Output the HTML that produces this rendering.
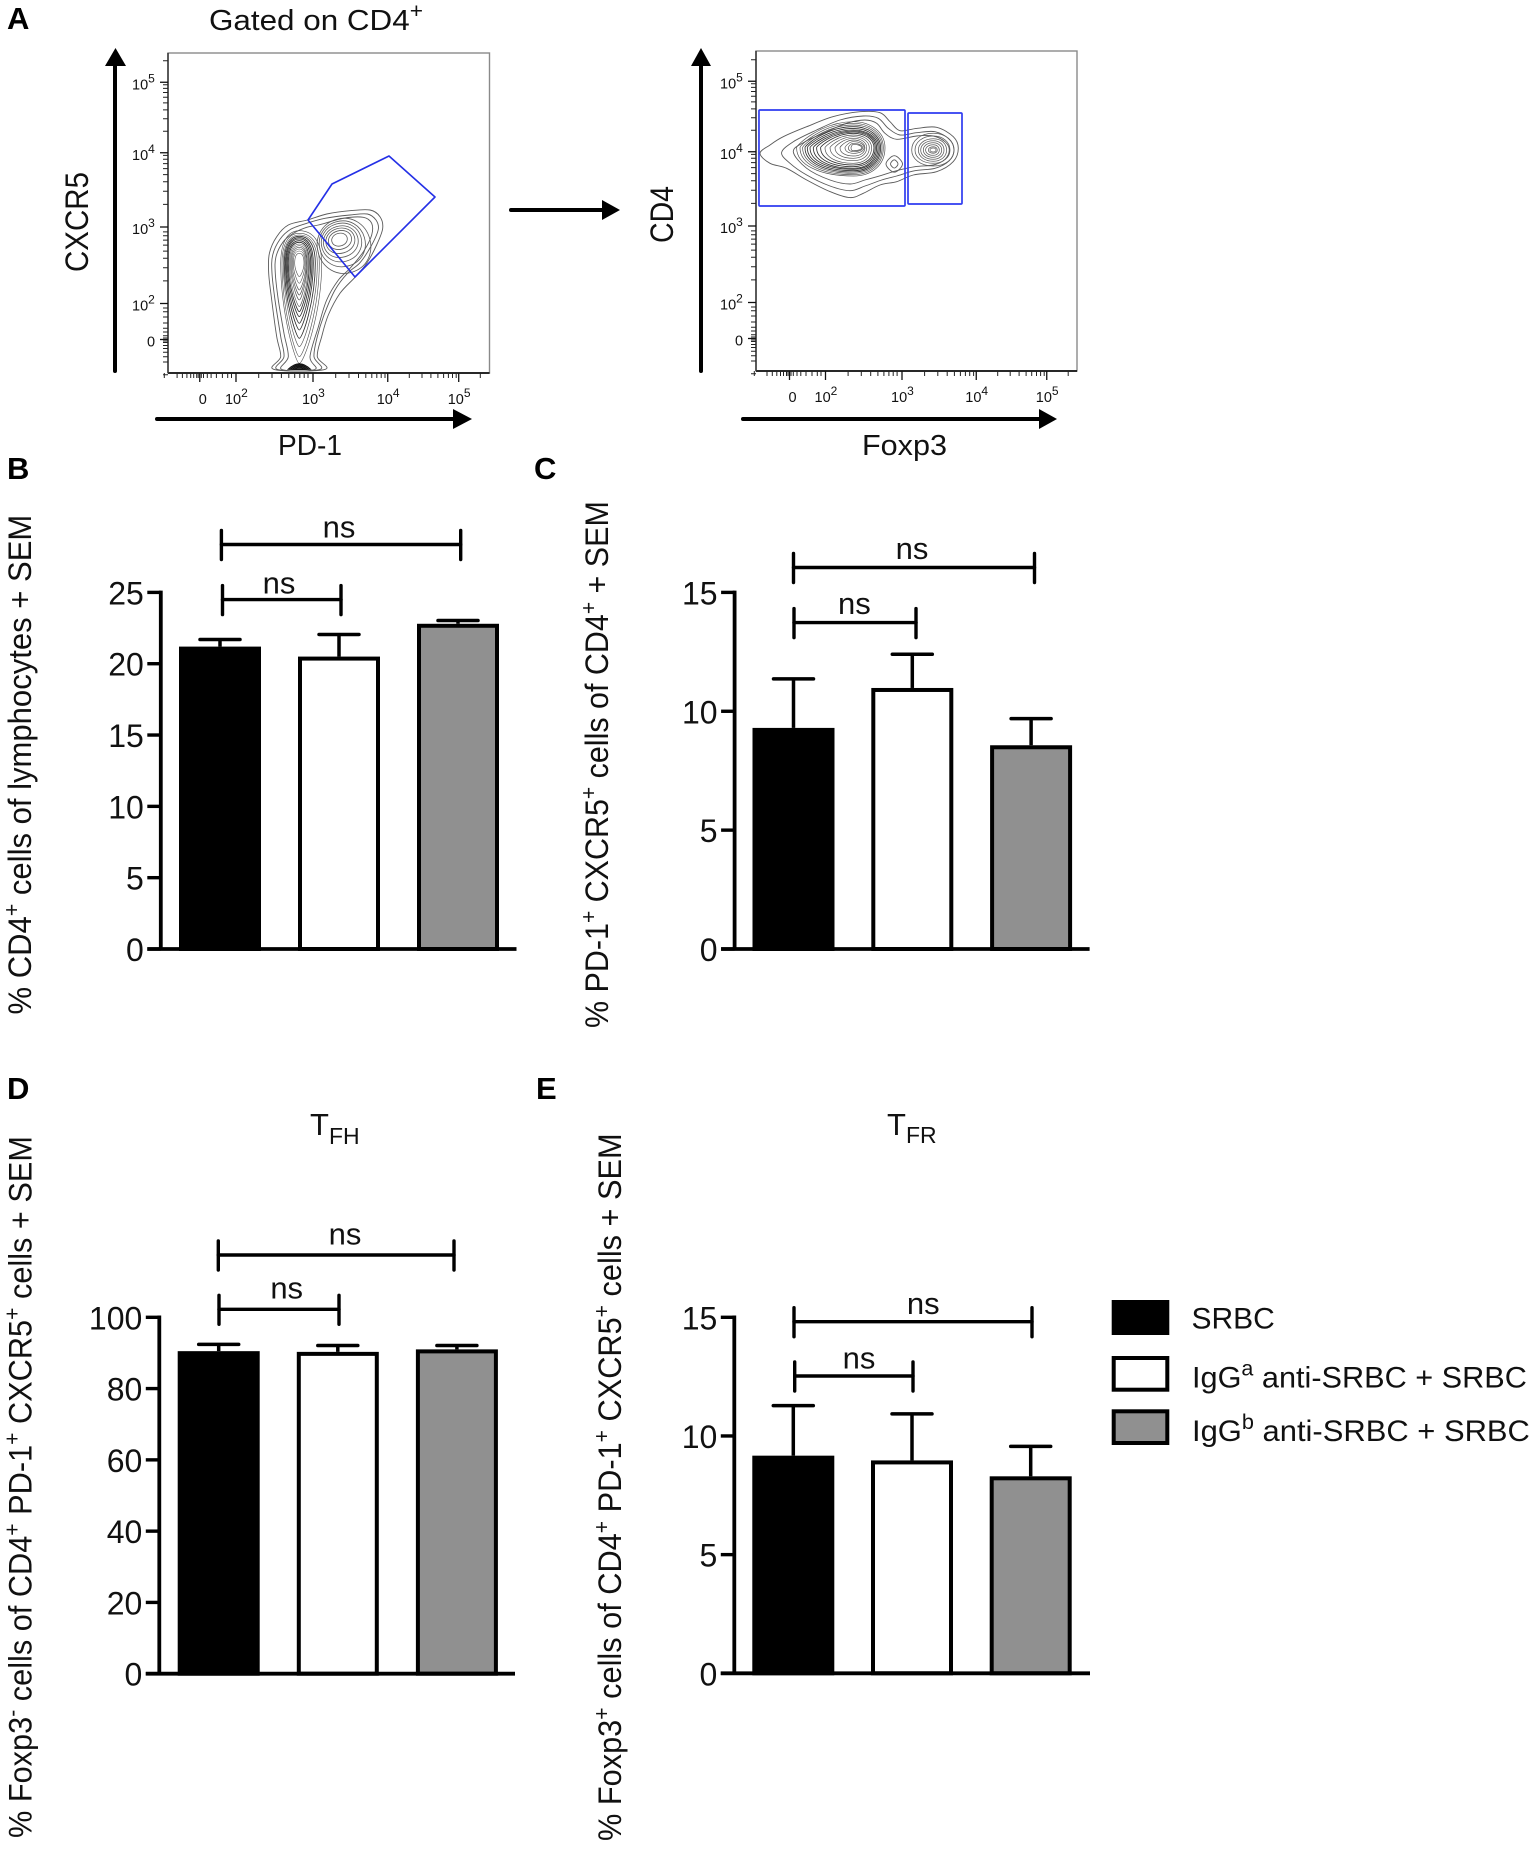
<!DOCTYPE html>
<html lang="en">
<head>
<meta charset="utf-8">
<title>Flow cytometry gating and T follicular cell frequencies</title>
<style>
html,body{margin:0;padding:0;background:#fff;}
svg{display:block;position:absolute;left:0;top:0;}
text{font-family:"Liberation Sans",sans-serif;fill:#111;}
.letter{font-size:31px;font-weight:bold;fill:#000;}
.ylab{font-size:32px;}
.flowlab{font-size:32px;}
.flowlab-h{font-size:29px;}
.leg{font-size:30px;}
</style>
</head>
<body>
<svg id="fig" xmlns="http://www.w3.org/2000/svg" width="1535" height="1849" viewBox="0 0 1535 1849">
<defs>
<filter id="soft" x="-5%" y="-5%" width="110%" height="110%"><feGaussianBlur stdDeviation="0.3"/></filter>
<clipPath id="clip-left"><rect x="168" y="53" width="322" height="320"/></clipPath>
<clipPath id="clip-right"><rect x="756" y="51" width="321" height="320"/></clipPath>
</defs>
<rect width="1535" height="1849" fill="#fff"/>

<text class="letter" x="7" y="29">A</text>
<text class="letter" x="7" y="479">B</text>
<text class="letter" x="534" y="479">C</text>
<text class="letter" x="7" y="1099">D</text>
<text class="letter" x="536" y="1099">E</text>

<text data-len="214" transform="translate(209,30) scale(1,1)" font-size="29">Gated on CD4<tspan font-size="21" dy="-12">+</tspan></text>

<text class="flowlab" data-len="100" transform="translate(88,272) rotate(-90) scale(1,1)">CXCR5</text>
<text class="flowlab-h" data-len="64" transform="translate(278,455) scale(1,1)">PD-1</text>
<text class="flowlab" data-len="57" transform="translate(673,243) rotate(-90) scale(1,1)">CD4</text>
<text class="flowlab-h" data-len="85" transform="translate(862,455) scale(1,1)">Foxp3</text>

<g><line x1="115" y1="371" x2="115" y2="64" stroke="#000" stroke-width="4" stroke-linecap="round"/><polygon points="105,66 126,66 115.5,48" fill="#000"/></g>
<g><line x1="157" y1="419" x2="455" y2="419" stroke="#000" stroke-width="4" stroke-linecap="round"/><polygon points="453,409 453,429 472,419" fill="#000"/></g>
<g><line x1="701" y1="371" x2="701" y2="64" stroke="#000" stroke-width="4" stroke-linecap="round"/><polygon points="691,66 711,66 701,48" fill="#000"/></g>
<g><line x1="743" y1="419" x2="1041" y2="419" stroke="#000" stroke-width="4" stroke-linecap="round"/><polygon points="1039,409 1039,429 1057,419" fill="#000"/></g>
<g><line x1="511" y1="210" x2="604" y2="210" stroke="#000" stroke-width="4" stroke-linecap="round"/><polygon points="602,200 602,220 620,210" fill="#000"/></g>

<text class="ylab" data-len="500" transform="translate(31,1014.5) rotate(-90) scale(1,1)">% CD4<tspan font-size="22" dy="-12">+</tspan><tspan dy="12"> cells of lymphocytes + SEM</tspan></text>
<text class="ylab" data-len="527" transform="translate(608,1028) rotate(-90) scale(1,1)">% PD-1<tspan font-size="22" dy="-12">+</tspan><tspan dy="12"> CXCR5</tspan><tspan font-size="22" dy="-12">+</tspan><tspan dy="12"> cells of CD4</tspan><tspan font-size="22" dy="-12">+</tspan><tspan dy="12"> + SEM</tspan></text>
<text class="ylab" data-len="702" transform="translate(31.7,1838) rotate(-90) scale(1,1)">% Foxp3<tspan font-size="22" dy="-12">-</tspan><tspan dy="12"> cells of CD4</tspan><tspan font-size="22" dy="-12">+</tspan><tspan dy="12"> PD-1</tspan><tspan font-size="22" dy="-12">+</tspan><tspan dy="12"> CXCR5</tspan><tspan font-size="22" dy="-12">+</tspan><tspan dy="12"> cells + SEM</tspan></text>
<text class="ylab" data-len="708" transform="translate(621,1841) rotate(-90) scale(1,1)">% Foxp3<tspan font-size="22" dy="-12">+</tspan><tspan dy="12"> cells of CD4</tspan><tspan font-size="22" dy="-12">+</tspan><tspan dy="12"> PD-1</tspan><tspan font-size="22" dy="-12">+</tspan><tspan dy="12"> CXCR5</tspan><tspan font-size="22" dy="-12">+</tspan><tspan dy="12"> cells + SEM</tspan></text>

<text x="310" y="1135" font-size="31">T<tspan font-size="23" dy="9">FH</tspan></text>
<text x="887" y="1135" font-size="31">T<tspan font-size="23" dy="8">FR</tspan></text>

<g>
<g>
<rect x="1111.7" y="1300" width="57.6" height="35" fill="#000"/>
<text class="leg" x="1191.5" y="1328.3">SRBC</text>
</g>
<g>
<rect x="1113.7" y="1358" width="53.6" height="31.7" fill="#fff" stroke="#000" stroke-width="4"/>
<text class="leg" data-len="335" transform="translate(1192,1387.3) scale(1,1)">IgG<tspan font-size="21" dy="-12">a</tspan><tspan dy="12"> anti-SRBC + SRBC</tspan></text>
</g>
<g>
<rect x="1113.7" y="1411.3" width="53.6" height="31.7" fill="#909090" stroke="#000" stroke-width="4"/>
<text class="leg" data-len="338" transform="translate(1192,1441) scale(1,1)">IgG<tspan font-size="21" dy="-12">b</tspan><tspan dy="12"> anti-SRBC + SRBC</tspan></text>
</g>
</g>

<g id="layer-flow-left"></g>
<g id="layer-flow-right"></g>
<g id="layer-b"></g>
<g id="layer-c"></g>
<g id="layer-d"></g>
<g id="layer-e"></g>
</svg>

<script>
/* ---------- bar chart data ---------- */
const categories = ['SRBC', 'IgGa anti-SRBC + SRBC', 'IgGb anti-SRBC + SRBC'];
const barFills = ['#000000', '#ffffff', '#909090'];

const panelBValues = [21.2, 20.5, 22.8];
const panelBSem = [0.5, 1.55, 0.23];
const panelBTicks = [0, 5, 10, 15, 20, 25];

const panelCValues = [9.3, 10.98, 8.57];
const panelCSem = [2.06, 1.42, 1.12];
const panelCTicks = [0, 5, 10, 15];

const panelDValues = [90.5, 90.3, 91.0];
const panelDSem = [1.9, 1.8, 1.1];
const panelDTicks = [0, 20, 40, 60, 80, 100];

const panelEValues = [9.17, 8.97, 8.3];
const panelESem = [2.11, 1.96, 1.26];
const panelETicks = [0, 5, 10, 15];

/* ---------- flow axis data (display units, 3 = 10^3) ---------- */
const flowTickUnits = [1.5, 1.98, 3, 3.99, 4.93];
const flowTickExponents = ['', '2', '3', '4', '5'];
const flowMinorFactors = [2, 3, 4, 5, 6, 7, 8, 9];
const flowLowTicks = [1.03, 1.2, 1.27, 1.33, 1.38, 1.42, 1.46, 1.48, 1.52, 1.55, 1.6, 1.65, 1.72, 1.8, 1.87, 1.92];

/* ---------- gates (display units) ---------- */
const tfhGateX = [2.934, 3.252, 4.007, 4.616, 3.556];
const tfhGateY = [3.093, 3.573, 3.947, 3.4, 2.333];
const foxp3NegGate = [1.093, 3.04, 3.267, 4.547];
const foxp3PosGate = [3.08, 3.8, 3.293, 4.507];

/* ---------- left contour plot outlines (display units) ---------- */
const leftOutline1X = [2.483,2.572,2.519,2.453,2.413,2.422,2.519,2.673,2.925,3.181,3.49,3.755,3.887,3.923,3.843,3.711,3.556,3.358,3.203,3.115,3.057,3.159];
const leftOutline1Y = [1.102,1.271,1.538,2.027,2.382,2.649,2.871,3.027,3.093,3.173,3.218,3.227,3.138,2.982,2.76,2.516,2.329,2.116,1.827,1.538,1.271,1.102];
const leftOutline2X = [2.528,2.616,2.572,2.497,2.457,2.466,2.563,2.704,2.916,3.159,3.49,3.72,3.834,3.865,3.777,3.622,3.455,3.291,3.146,3.057,3.013,3.093];
const leftOutline2Y = [1.102,1.271,1.538,2.027,2.382,2.627,2.836,2.969,3.049,3.116,3.16,3.173,3.093,2.969,2.76,2.524,2.382,2.16,1.827,1.538,1.271,1.102];
const leftOutline3X = [2.585,2.673,2.616,2.541,2.501,2.51,2.607,2.74,2.916,3.071,3.402,3.667,3.777,3.777,3.667,3.49,3.336,3.181,3.071,2.96,3.026];
const leftOutline3Y = [1.102,1.271,1.582,2.027,2.382,2.604,2.804,2.916,2.996,3.027,3.116,3.129,3.049,2.893,2.671,2.449,2.293,2.027,1.671,1.271,1.102];

/* nested teardrop contours of the PD-1 low population */
const dropLeft = [2.572,2.589,2.607,2.62,2.634,2.647,2.66,2.673,2.687,2.7,2.713,2.726,2.739,2.757];
const dropRight = [3.115,3.084,3.057,3.031,3.004,2.987,2.969,2.951,2.938,2.925,2.916,2.907,2.894,2.881];
const dropTop = [2.951,2.916,2.893,2.876,2.858,2.84,2.818,2.796,2.773,2.751,2.729,2.707,2.68,2.649];
const dropBottom = [1.182,1.271,1.404,1.516,1.627,1.716,1.804,1.871,1.938,2.027,2.093,2.16,2.249,2.338];

/* nested contours of the PD-1 high population */
const lobeLeft = [3.247,3.203,3.168,3.137,3.11,3.084,3.057];
const lobeRight = [3.455,3.512,3.556,3.6,3.645,3.693,3.764];
const lobeTop = [2.916,2.951,2.982,3.013,3.049,3.08,3.116];
const lobeBottom = [2.747,2.702,2.649,2.596,2.538,2.471,2.382];

/* dark mound on the lower axis */
const moundHalfWidth = [0.15, 0.12, 0.09, 0.06];
const moundHeight = [0.075, 0.06, 0.045, 0.03];

/* ---------- right contour plot outlines (display units) ---------- */
const rightOutline1X = [1.106,1.24,1.417,1.729,2.084,2.44,2.706,2.84,2.973,3.195,3.462,3.684,3.751,3.684,3.462,3.151,2.929,2.706,2.484,2.306,2.04,1.729,1.462,1.24];
const rightOutline1Y = [3.969,4.08,4.191,4.324,4.458,4.524,4.511,4.391,4.271,4.302,4.316,4.191,4.036,3.858,3.724,3.68,3.591,3.547,3.436,3.378,3.458,3.613,3.769,3.836];
const rightOutline2X = [1.395,1.551,1.862,2.173,2.484,2.684,2.817,2.973,3.195,3.44,3.631,3.693,3.631,3.44,3.173,2.929,2.729,2.507,2.306,2.04,1.729,1.506];
const rightOutline2Y = [3.978,4.124,4.28,4.413,4.467,4.436,4.302,4.213,4.244,4.258,4.156,4.013,3.871,3.769,3.738,3.667,3.613,3.533,3.471,3.533,3.68,3.836];
const rightOutline3X = [1.551,1.706,1.951,2.262,2.506,2.662,2.773,2.929,3.195,3.417,3.573,3.631,3.573,3.417,3.173,2.929,2.729,2.506,2.306,2.04,1.729];
const rightOutline3Y = [3.991,4.124,4.236,4.369,4.413,4.369,4.236,4.156,4.2,4.2,4.124,4.013,3.889,3.813,3.791,3.738,3.676,3.613,3.56,3.613,3.769];

/* nested contours of the Foxp3 negative population */
const mainLeft = [1.595,1.64,1.675,1.706,1.737,1.773,1.817,1.862,1.915,1.973,2.04,2.107,2.173,2.24,2.284,2.32];
const mainRight = [2.773,2.751,2.733,2.715,2.697,2.68,2.662,2.644,2.626,2.595,2.564,2.529,2.506,2.493,2.475,2.462];
const mainTop = [4.391,4.369,4.347,4.324,4.302,4.28,4.267,4.253,4.236,4.213,4.191,4.169,4.147,4.124,4.102,4.089];
const mainBottom = [3.667,3.684,3.702,3.72,3.738,3.756,3.769,3.791,3.813,3.836,3.871,3.902,3.933,3.969,3.991,4.004];

/* nested contours of the Foxp3 positive population */
const posLeft = [3.129,3.173,3.218,3.249,3.284,3.315,3.351,3.373];
const posRight = [3.693,3.64,3.595,3.56,3.529,3.497,3.471,3.453];
const posTop = [4.236,4.2,4.164,4.138,4.111,4.084,4.058,4.04];
const posBottom = [3.8,3.836,3.862,3.889,3.916,3.942,3.969,3.987];

/* small intermediate peak */
const peakHalfWidth = [0.11, 0.05];
const peakHalfHeight = [0.11, 0.055];

const NS = 'http://www.w3.org/2000/svg';
function mk(tag, attrs, parent) {
  const el = document.createElementNS(NS, tag);
  for (const k in attrs) el.setAttribute(k, attrs[k]);
  parent.appendChild(el);
  return el;
}

/* ---------- bar charts ---------- */
function drawBars(layer, prefix, cfg, values, sems, ticks) {
  const maxTick = ticks[ticks.length - 1];
  const y = v => cfg.y0 - (v / maxTick) * (cfg.y0 - cfg.yTop);
  const x = i => cfg.x0 + i * cfg.step;
  const bw = 82, sw = 4;

  categories.forEach((cat, i) => {
    const stem = mk('line', {x1: x(i), x2: x(i), y1: y(values[i]), y2: y(values[i] + sems[i]), stroke: '#000', 'stroke-width': 3.5}, layer);
    
    
    const cap = mk('line', {x1: x(i) - 20, x2: x(i) + 20, y1: y(values[i] + sems[i]), y2: y(values[i] + sems[i]), stroke: '#000', 'stroke-width': 3.5, 'stroke-linecap': 'round'}, layer);
    
    
    const bar = mk('rect', {x: x(i) - bw / 2 + sw / 2, y: y(values[i]) + sw / 2, width: bw - sw, height: cfg.y0 - y(values[i]) - sw / 2, fill: barFills[i], stroke: '#000', 'stroke-width': sw}, layer);
    
    
  });

  const yAxis = mk('line', {x1: cfg.axisX, x2: cfg.axisX, y1: cfg.yTop - 1.8, y2: cfg.y0, stroke: '#000', 'stroke-width': 3.8}, layer);
  
  
  const xAxis = mk('line', {x1: cfg.axisX - 13.5, x2: cfg.xEnd, y1: cfg.y0, y2: cfg.y0, stroke: '#000', 'stroke-width': 3.8}, layer);
  
  

  ticks.forEach(t => {
    const tick = mk('line', {x1: cfg.axisX - 13.5, x2: cfg.axisX, y1: y(t), y2: y(t), stroke: '#000', 'stroke-width': 3.4}, layer);
    
    
    const label = mk('text', {x: cfg.axisX - 17, y: y(t) + 12, 'text-anchor': 'end', 'font-size': 32}, layer);
    label.textContent = t;
    
    
  });

  cfg.brackets.forEach((b, i) => {
    const g = mk('g', {stroke: '#000', 'stroke-width': 3.4, 'stroke-linecap': 'round'}, layer);
    
    
    mk('line', {x1: b.x1, x2: b.x2, y1: b.y, y2: b.y}, g);
    mk('line', {x1: b.x1, x2: b.x1, y1: b.y - 14, y2: b.y + 15}, g);
    mk('line', {x1: b.x2, x2: b.x2, y1: b.y - 14, y2: b.y + 15}, g);
    const ns = mk('text', {x: b.lx, y: b.ly, 'text-anchor': 'middle', 'font-size': 31}, layer);
    ns.textContent = 'ns';
    
    
  });
}

drawBars(document.getElementById('layer-b'), 'panel-b', {x0: 220, step: 119, y0: 949, yTop: 592.4, axisX: 160.8, xEnd: 516.5,
  brackets: [{x1: 221.4, x2: 460.7, y: 544.5, lx: 339, ly: 537.3}, {x1: 222.5, x2: 341, y: 599.6, lx: 279, ly: 593.5}]},
  panelBValues, panelBSem, panelBTicks);
drawBars(document.getElementById('layer-c'), 'panel-c', {x0: 793.5, step: 118.8, y0: 949, yTop: 592.4, axisX: 734.6, xEnd: 1089.6,
  brackets: [{x1: 793.5, x2: 1034.5, y: 567.5, lx: 912, ly: 559}, {x1: 794, x2: 916, y: 622.6, lx: 854.4, ly: 613.8}]},
  panelCValues, panelCSem, panelCTicks);
drawBars(document.getElementById('layer-d'), 'panel-d', {x0: 218.7, step: 119.1, y0: 1673.7, yTop: 1317.3, axisX: 159.3, xEnd: 515,
  brackets: [{x1: 218.3, x2: 454, y: 1255, lx: 345, ly: 1244.3}, {x1: 219, x2: 339, y: 1309.3, lx: 286.7, ly: 1298.7}]},
  panelDValues, panelDSem, panelDTicks);
drawBars(document.getElementById('layer-e'), 'panel-e', {x0: 793.3, step: 118.7, y0: 1673.3, yTop: 1317.3, axisX: 734.3, xEnd: 1090,
  brackets: [{x1: 794, x2: 1032, y: 1321.7, lx: 923.3, ly: 1314}, {x1: 794.7, x2: 913, y: 1376, lx: 859, ly: 1368.3}]},
  panelEValues, panelESem, panelETicks);

/* ---------- contour helpers ---------- */
function closedSpline(xs, ys, sx, sy) {
  const n = xs.length;
  const P = i => [sx(xs[(i + n) % n]), sy(ys[(i + n) % n])];
  let d = 'M' + P(0)[0].toFixed(1) + ',' + P(0)[1].toFixed(1);
  for (let i = 0; i < n; i++) {
    const p0 = P(i - 1), p1 = P(i), p2 = P(i + 1), p3 = P(i + 2);
    const c1 = [p1[0] + (p2[0] - p0[0]) / 6, p1[1] + (p2[1] - p0[1]) / 6];
    const c2 = [p2[0] - (p3[0] - p1[0]) / 6, p2[1] - (p3[1] - p1[1]) / 6];
    d += 'C' + c1[0].toFixed(1) + ',' + c1[1].toFixed(1) + ' ' + c2[0].toFixed(1) + ',' + c2[1].toFixed(1) + ' ' + p2[0].toFixed(1) + ',' + p2[1].toFixed(1);
  }
  return d + 'Z';
}
function blobPath(sx, sy, c, w, l, r, t, b, o) {
  const C = sx(c), W = sy(w), L = sx(l), R = sx(r), T = sy(t), B = sy(b);
  const f = v => v.toFixed(1);
  return 'M' + f(C) + ',' + f(T) +
    'C' + f(C + (R - C) * o.topR) + ',' + f(T) + ' ' + f(R) + ',' + f(W - (W - T) * o.side) + ' ' + f(R) + ',' + f(W) +
    'C' + f(R) + ',' + f(W + (B - W) * o.low) + ' ' + f(C + (R - C) * o.bot) + ',' + f(B) + ' ' + f(C) + ',' + f(B) +
    'C' + f(C - (C - L) * o.bot) + ',' + f(B) + ' ' + f(L) + ',' + f(W + (B - W) * o.low) + ' ' + f(L) + ',' + f(W) +
    'C' + f(L) + ',' + f(W - (W - T) * o.sideL) + ' ' + f(C - (C - L) * o.topL) + ',' + f(T) + ' ' + f(C) + ',' + f(T) + 'Z';
}

function drawFlowFrame(layer, prefix, cfg) {
  const sx = u => cfg.x3 + (u - 3) * cfg.kx;
  const sy = u => cfg.y3 - (u - 3) * 75;
  const frame = mk('rect', {x: cfg.fx, y: cfg.fy, width: cfg.fw, height: cfg.fh, fill: 'none', stroke: '#8a8a8a', 'stroke-width': 1.4}, layer);
  
  
  const bottom = mk('line', {x1: cfg.fx, x2: cfg.fx + cfg.fw, y1: cfg.fy + cfg.fh, y2: cfg.fy + cfg.fh, stroke: '#111', 'stroke-width': 1.7}, layer);
  
  
  const left = mk('line', {x1: cfg.fx, x2: cfg.fx, y1: cfg.fy, y2: cfg.fy + cfg.fh, stroke: '#333', 'stroke-width': 1.5}, layer);
  
  

  const fb = cfg.fy + cfg.fh;
  const minor = [];
  flowLowTicks.forEach(u => minor.push(u));
  [2, 3, 4, 5].forEach(d => {
    flowMinorFactors.forEach(k => {
      const u = (d === 5 ? 4.93 : flowTickUnits[d - 1]) + Math.log10(k) * (d < 4 ? 1 : 0.95);
      if (u < 5.32) minor.push(u);
    });
  });
  const minorX = mk('path', {d: minor.map(u => 'M' + sx(u).toFixed(1) + ',' + fb + 'v5').join(''), stroke: '#222', 'stroke-width': 1, fill: 'none'}, layer);
  
  
  const minorY = mk('path', {d: minor.map(u => 'M' + cfg.fx + ',' + sy(u).toFixed(1) + 'h-5').join(''), stroke: '#222', 'stroke-width': 1, fill: 'none'}, layer);
  
  

  flowTickUnits.forEach((u, i) => {
    const tx = mk('line', {x1: sx(u), x2: sx(u), y1: fb, y2: fb + 9, stroke: '#111', 'stroke-width': 1.3}, layer);
    
    
    const ty = mk('line', {x1: cfg.fx - 8, x2: cfg.fx, y1: sy(u), y2: sy(u), stroke: '#111', 'stroke-width': 1.3}, layer);
    
    

    const exp = flowTickExponents[i];
    const lx = mk('text', {x: exp ? sx(u) - 11 : sx(u) + 3, y: cfg.xLabelY, 'font-size': 14.5, 'text-anchor': exp ? 'start' : 'middle'}, layer);
    
    
    const ly = mk('text', {x: exp ? cfg.fx - 36 : cfg.fx - 21, y: sy(u) + 7, 'font-size': 14.5}, layer);
    
    
    [lx, ly].forEach(el => {
      if (exp) {
        el.appendChild(document.createTextNode('10'));
        const s = mk('tspan', {'font-size': 12, dy: -7}, el);
        s.textContent = exp;
      } else {
        el.textContent = '0';
      }
    });
  });
  return {sx, sy};
}

function contour(group, d, name, extra) {
  const attrs = {d: d, fill: 'none', stroke: '#5a5a5a', 'stroke-width': 0.9};
  if (extra) for (const k in extra) attrs[k] = extra[k];
  const p = mk('path', attrs, group);
  
  
  return p;
}

/* ---------- left contour plot ---------- */
(function () {
  const layer = document.getElementById('layer-flow-left');
  const s = drawFlowFrame(layer, 'pd1-cxcr5', {x3: 313, y3: 227, kx: 75.5, fx: 168, fy: 53, fw: 321.5, fh: 320, xLabelY: 404});
  const g = mk('g', {'clip-path': 'url(#clip-left)', filter: 'url(#soft)'}, layer);
  
  

  contour(g, closedSpline(leftOutline1X, leftOutline1Y, s.sx, s.sy), 'contour-outline-1');
  contour(g, closedSpline(leftOutline2X, leftOutline2Y, s.sx, s.sy), 'contour-outline-2');
  contour(g, closedSpline(leftOutline3X, leftOutline3Y, s.sx, s.sy), 'contour-outline-3');

  const lobeStyle = {topR: 0.6, topL: 0.6, side: 0.55, sideL: 0.55, low: 0.55, bot: 0.6};
  lobeLeft.forEach((l, i) => {
    const cu = (l + lobeRight[i]) / 2, wu = (lobeTop[i] + lobeBottom[i]) / 2;
    contour(g, blobPath(s.sx, s.sy, cu, wu, l, lobeRight[i], lobeTop[i], lobeBottom[i], lobeStyle), 'contour-pd1-high-' + i,
      {transform: 'rotate(-16 ' + s.sx(cu).toFixed(1) + ' ' + s.sy(wu).toFixed(1) + ')', 'stroke-width': 0.8});
  });

  const dropStyle = {topR: 0.72, topL: 0.72, side: 0.55, sideL: 0.55, low: 0.5, bot: 0.2};
  dropLeft.forEach((l, i) => {
    contour(g, blobPath(s.sx, s.sy, 2.819, 2.516, l, dropRight[i], dropTop[i], dropBottom[i], dropStyle), 'contour-pd1-low-' + i,
      {stroke: i >= 3 && i <= 7 ? '#2e2e2e' : '#505050', 'stroke-width': i >= 3 && i <= 7 ? 0.85 : 0.62});
  });

  moundHalfWidth.forEach((w, i) => {
    const x = s.sx(2.819), by = s.sy(1.102), hw = w * 75.5, h = moundHeight[i] * 75;
    contour(g, 'M' + (x - hw) + ',' + by + 'Q' + x + ',' + (by - 2 * h) + ' ' + (x + hw) + ',' + by + 'Z', 'contour-baseline-mound-' + i, {fill: i === 0 ? '#444' : 'none', stroke: '#111'});
  });

  const pts = tfhGateX.map((u, i) => s.sx(u).toFixed(1) + ',' + s.sy(tfhGateY[i]).toFixed(1)).join(' ');
  const gate = mk('polygon', {points: pts, fill: 'none', stroke: '#2430e6', 'stroke-width': 1.6, 'stroke-linejoin': 'round'}, layer);
  
  
})();

/* ---------- right contour plot ---------- */
(function () {
  const layer = document.getElementById('layer-flow-right');
  const s = drawFlowFrame(layer, 'foxp3-cd4', {x3: 902, y3: 226, kx: 75, fx: 756, fy: 51, fw: 321, fh: 320, xLabelY: 402});
  const g = mk('g', {'clip-path': 'url(#clip-right)', filter: 'url(#soft)'}, layer);
  
  

  contour(g, closedSpline(rightOutline1X, rightOutline1Y, s.sx, s.sy), 'contour-outline-1');
  contour(g, closedSpline(rightOutline2X, rightOutline2Y, s.sx, s.sy), 'contour-outline-2');
  contour(g, closedSpline(rightOutline3X, rightOutline3Y, s.sx, s.sy), 'contour-outline-3');

  const mainStyle = {topR: 0.55, topL: 0.55, side: 0.6, sideL: 0.12, low: 0.6, bot: 0.6};
  mainLeft.forEach((l, i) => {
    contour(g, blobPath(s.sx, s.sy, 2.351, 4.044, l, mainRight[i], mainTop[i], mainBottom[i], mainStyle), 'contour-foxp3-negative-' + i,
      {stroke: i >= 3 && i <= 8 ? '#333333' : '#505050', 'stroke-width': i >= 3 && i <= 8 ? 0.85 : 0.68});
  });
  const posStyle = {topR: 0.6, topL: 0.6, side: 0.55, sideL: 0.55, low: 0.55, bot: 0.6};
  posLeft.forEach((l, i) => {
    contour(g, blobPath(s.sx, s.sy, 3.417, 4.013, l, posRight[i], posTop[i], posBottom[i], posStyle), 'contour-foxp3-positive-' + i, {'stroke-width': 0.75});
  });
  const peakStyle = {topR: 0.35, topL: 0.35, side: 0.35, sideL: 0.35, low: 0.35, bot: 0.35};
  peakHalfWidth.forEach((w, i) => {
    const h = peakHalfHeight[i];
    contour(g, blobPath(s.sx, s.sy, 2.897, 3.827, 2.897 - w, 2.897 + w, 3.827 + h, 3.827 - h, peakStyle), 'contour-intermediate-peak-' + i);
  });

  [foxp3NegGate, foxp3PosGate].forEach((r, i) => {
    const gate = mk('rect', {x: s.sx(r[0]), y: s.sy(r[3]), width: s.sx(r[1]) - s.sx(r[0]), height: s.sy(r[2]) - s.sy(r[3]), fill: 'none', stroke: '#2f3cf0', 'stroke-width': 1.7, rx: 1}, layer);
    
    
  });
})();

/* ---------- fit long labels to their measured length ---------- */
document.querySelectorAll('[data-len]').forEach(el => {
  const natural = el.getComputedTextLength();
  const target = parseFloat(el.getAttribute('data-len'));
  if (natural > 0) {
    el.setAttribute('transform', el.getAttribute('transform').replace('scale(1,1)', 'scale(' + (target / natural).toFixed(4) + ',1)'));
  }
});
</script>
</body>
</html>
